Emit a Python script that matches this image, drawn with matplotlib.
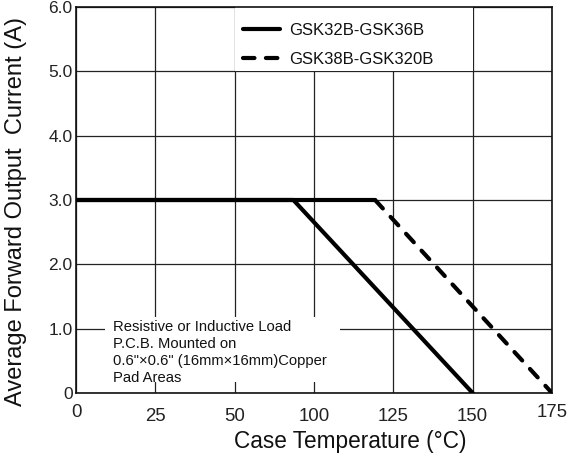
import matplotlib
matplotlib.use("Agg")
import matplotlib.pyplot as plt
from matplotlib.patches import Rectangle
import matplotlib.transforms as mtransforms

plt.rcParams['font.family'] = ['Liberation Sans', 'DejaVu Sans']

# x axis is drawn on equally spaced grid positions; the original labels skip 75
x_positions = [0, 1, 2, 3, 4, 5, 6]
x_tick_labels = ['0', '25', '50', '100', '125', '150', '175']
y_ticks = [0, 1, 2, 3, 4, 5, 6]
y_tick_labels = ['0', '1.0', '2.0', '3.0', '4.0', '5.0', '6.0']

# series (x in grid positions)
solid_name = 'GSK32B-GSK36B'
solid_x = [0.0, 2.74, 5.0]
solid_y = [3.0, 3.0, 0.0]
dashed_name = 'GSK38B-GSK320B'
dashed_x = [0.0, 3.77, 6.0]
dashed_y = [3.0, 3.0, 0.0]

note = 'Resistive or Inductive Load\nP.C.B. Mounted on\n0.6"×0.6" (16mm×16mm)Copper\nPad Areas'

fig = plt.figure(figsize=(5.73, 4.61), dpi=100)
ax = fig.add_axes([76/573, 1-393/461, 476/573, 386/461])
ax.set_xlim(0, 6)
ax.set_ylim(0, 6)

ax.set_xticks(x_positions)
ax.set_xticklabels(x_tick_labels, fontsize=13.4, color='#222222')
ax.set_yticks(y_ticks)
ax.set_yticklabels(y_tick_labels, fontsize=12.5, color='#222222')
ax.tick_params(axis='both', length=0)
ax.tick_params(axis='x', pad=10.5)
ax.tick_params(axis='y', pad=2.5)

ax.grid(True, color='#222222', linewidth=0.9)
for s in ax.spines.values():
    s.set_linewidth(1.2)
    s.set_color('#111111')

# white cells behind legend and note
ax.add_patch(Rectangle((2, 5), 3, 1, facecolor='white', edgecolor='none', zorder=1.6))
ax.add_patch(Rectangle((0.366, 0.171), 2.964, 1.01, facecolor='white', edgecolor='none', zorder=1.6))

ax.plot(solid_x, solid_y, color='black', lw=3, label=solid_name, zorder=3,
        solid_capstyle='round', solid_joinstyle='round')
ax.plot(dashed_x[:2], dashed_y[:2], color='black', lw=3, zorder=3,
        solid_capstyle='round')
ax.plot(dashed_x[1:], dashed_y[1:], color='black', lw=3, linestyle=(0, (2.75, 2.75)),
        dash_capstyle='round', label=dashed_name, zorder=3)

leg = ax.legend(loc='upper left', bbox_to_anchor=(0.351, 0.958), frameon=False,
                fontsize=12, borderpad=0, handlelength=2.2, handletextpad=0.54,
                labelspacing=0.84, borderaxespad=0)
for t in leg.get_texts():
    t.set_color('#111111')

ax.text(0.466, 1.14, note, fontsize=10.6, va='top', ha='left', linespacing=1.28,
        color='#111111', zorder=4)

ax.set_xlabel('Case Temperature (°C)', fontsize=16.3, color='#111111')
ax.xaxis.set_label_coords(0.576, -0.096)
ax.set_ylabel('Average Forward Output  Current (A)', fontsize=17, color='#111111')
ax.yaxis.set_label_coords(-0.103, 0.469)

# small upward shift for first and last x labels as in the original
xl = ax.get_xticklabels()
off = mtransforms.ScaledTranslation(0, 4/100, fig.dpi_scale_trans)
for i in (0, len(xl) - 1):
    xl[i].set_transform(xl[i].get_transform() + off)

fig.savefig('out.png', dpi=100)
